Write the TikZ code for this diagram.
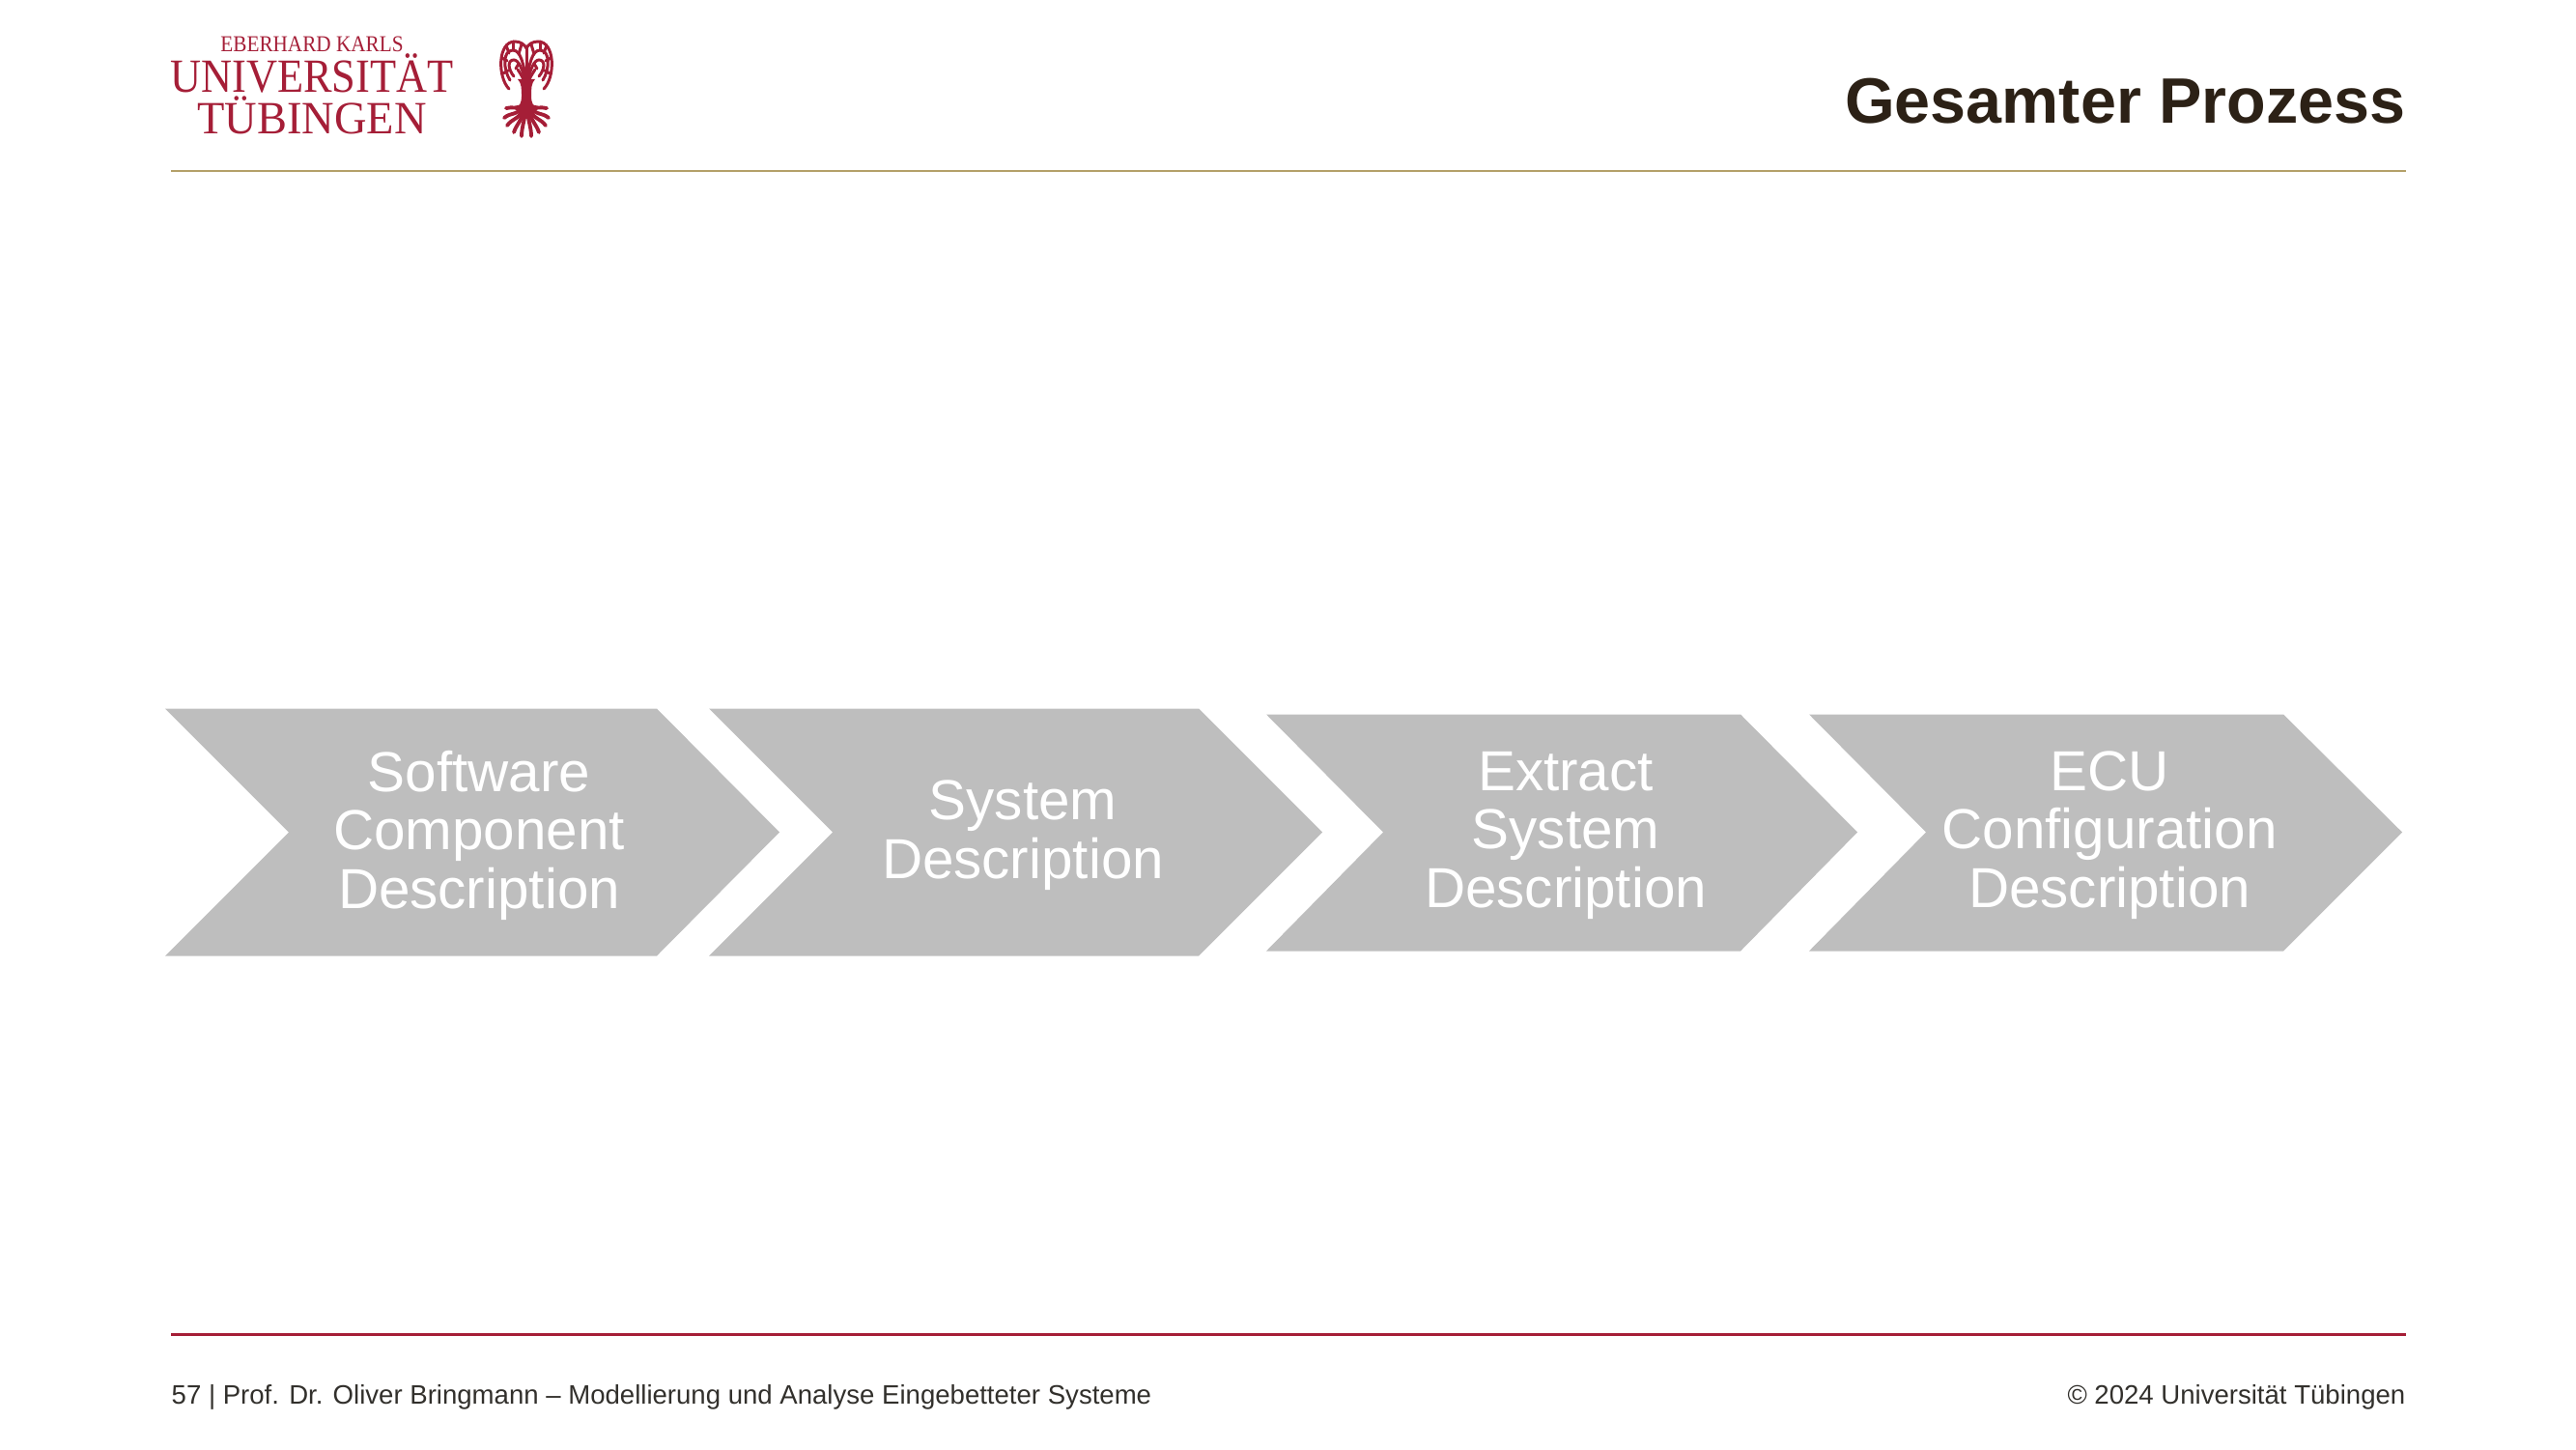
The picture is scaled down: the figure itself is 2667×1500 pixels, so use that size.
\documentclass[tikz,border=0pt]{standalone}
\usepackage{fontspec}
\setmainfont{Liberation Sans}
\newfontfamily\logofont[FakeStretch=0.9]{Liberation Serif}
\newfontfamily\logofontwide[FakeStretch=0.97]{Liberation Serif}
\usepackage{xcolor}
\usepackage{tikz}
\definecolor{unired}{HTML}{A51E37}
\definecolor{unigold}{HTML}{B4A069}
\definecolor{titlebrown}{HTML}{2C2116}
\definecolor{footgray}{HTML}{32302C}
\definecolor{chevgray}{HTML}{BEBEBE}
\tikzset{
  chev/.style={fill=chevgray, draw=none},
  chevtext/.style={align=center, text=white, inner sep=0pt, font=\fontsize{16.6}{17.2}\selectfont},
  foot/.style={text=footgray, inner sep=0pt, font=\fontsize{7.84}{10}\selectfont},
  logotext/.style={text=unired, inner sep=0pt, anchor=base},
  treeline/.style={draw=unired, line cap=round, line width=0.85pt},
  rootline/.style={draw=unired, line cap=round, line width=1.1pt},
}

\begin{document}
\begin{tikzpicture}[x=0.01cm, y=-0.01cm]
\useasboundingbox (0,0) rectangle (2667,1500);
\fill[white] (0,0) rectangle (2667,1500);
% header
\draw[unigold, line width=0.7pt] (177,177) -- (2491,177);
\node[text=titlebrown, anchor=base east, inner sep=0pt, font=\fontsize{18.9}{22}\selectfont\bfseries] (title) at (2491,127.5) {Gesamter Prozess};
% logo
\node[logotext, font=\logofont\fontsize{6.7}{8}\selectfont] (logoa) at (323,54) {EBERHARD KARLS};
\node[logotext, font=\logofont\fontsize{14}{16}\selectfont] (logob) at (323,96) {UNIVERSITÄT};
\node[logotext, font=\logofontwide\fontsize{13.6}{16}\selectfont] (logoc) at (323,139) {TÜBINGEN};
% tree
\begin{scope}[shift={(545,0)}]
\fill[unired] (-9,82) .. controls (-5,86) and (-5,92) .. (-5,100) .. controls (-5,106) and (-7,110) .. (-12,114)
  -- (12,114) .. controls (7,110) and (5,106) .. (5,100) .. controls (5,92) and (5,86) .. (9,82) -- cycle;
\draw[treeline] (0,84) -- (0,50);
\foreach \s in {-1,1}{
  \begin{scope}[xscale=\s]
  % crown
  \draw[treeline] (0,50) .. controls (2,46) and (6,43) .. (12,43) .. controls (30,43) and (30,80) .. (18,92);
  \draw[treeline] (0,84) .. controls (3,66) and (6,52) .. (14,52) .. controls (25,52) and (24,72) .. (17,83);
  \draw[treeline] (1,84) .. controls (4,72) and (8,62) .. (13,62) .. controls (20,62) and (19,72) .. (13,79);
  \draw[treeline] (2,84) .. controls (5,78) and (7,75) .. (9,72);
  \draw[treeline] (5,46) -- (8,56);
  \draw[treeline] (14,43) -- (14,52);
  \draw[treeline] (21,47) -- (18,55);
  \draw[treeline] (25,60) -- (20,63);
  \draw[treeline] (24,76) -- (19,73);
  \draw[treeline] (8,66) -- (11,71);
  % roots
  \draw[rootline] (3,108) .. controls (10,114) and (14,110) .. (21,112);
  \draw[rootline] (3,110) .. controls (10,120) and (16,116) .. (23,122);
  \draw[rootline] (2,112) .. controls (8,124) and (14,122) .. (20,130);
  \draw[rootline] (2,112) .. controls (5,126) and (10,128) .. (13,137);
  \draw[rootline] (1,114) .. controls (2,126) and (5,132) .. (5,141);
  \end{scope}
}
\end{scope}
% chevrons
\fill[chev] (171,733.5) -- (680,733.5) -- (807,861.5) -- (680,989.5) -- (171,989.5) -- (299,861.5) -- cycle;
\fill[chev] (734,733.5) -- (1241,733.5) -- (1369,861.5) -- (1241,989.5) -- (734,989.5) -- (862,861.5) -- cycle;
\fill[chev] (1311,739.5) -- (1802,739.5) -- (1923,861.5) -- (1802,984.5) -- (1311,984.5) -- (1432,861.5) -- cycle;
\fill[chev] (1873,739.5) -- (2364,739.5) -- (2487,861.5) -- (2364,984.5) -- (1873,984.5) -- (1994,861.5) -- cycle;
\node[chevtext] (swc) at (496,864.5) {Software\\Component\\Description};
\node[chevtext] (sys) at (1059,864.5) {System\\Description};
\node[chevtext] (ext) at (1621,864.5) {Extract\\System\\Description};
\node[chevtext] (ecu) at (2184,864.5) {ECU\\Configuration\\Description};
% footer
\draw[unired, line width=0.7pt] (177,1381.5) -- (2491,1381.5);
\node[foot, anchor=base west] (footl) at (177,1453) {57 | Prof. Dr. Oliver Bringmann – Modellierung und Analyse Eingebetteter Systeme};
\node[foot, anchor=base east] (footr) at (2491,1453) {© 2024 Universität Tübingen};
\end{tikzpicture}
\end{document}
